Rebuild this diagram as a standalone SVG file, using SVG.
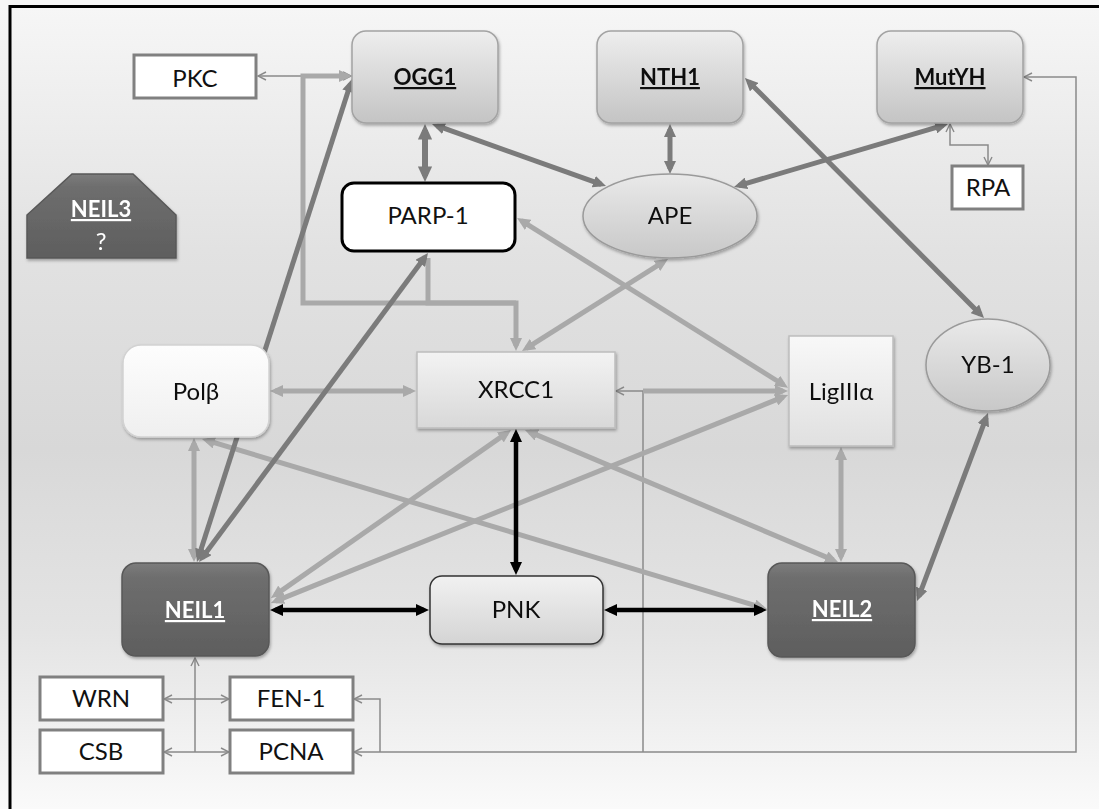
<svg xmlns="http://www.w3.org/2000/svg" width="1099" height="809" viewBox="0 0 1099 809">
  <defs>
    <linearGradient id="bg" x1="0" y1="8" x2="0" y2="809" gradientUnits="userSpaceOnUse">
      <stop offset="0" stop-color="#f6f6f6"/>
      <stop offset="0.3" stop-color="#e2e2e2"/>
      <stop offset="0.55" stop-color="#d8d8d8"/>
      <stop offset="0.78" stop-color="#e4e4e4"/>
      <stop offset="1" stop-color="#fafafa"/>
    </linearGradient>
    <linearGradient id="gBox" x1="0" y1="0" x2="0" y2="1">
      <stop offset="0" stop-color="#eeeeee"/>
      <stop offset="1" stop-color="#c4c4c4"/>
    </linearGradient>
    <linearGradient id="gDark" x1="0" y1="0" x2="0" y2="1">
      <stop offset="0" stop-color="#7c7c7c"/>
      <stop offset="0.15" stop-color="#6e6e6e"/>
      <stop offset="1" stop-color="#5e5e5e"/>
    </linearGradient>
    <linearGradient id="gPale" x1="0" y1="0" x2="0" y2="1">
      <stop offset="0" stop-color="#fdfdfd"/>
      <stop offset="1" stop-color="#efefef"/>
    </linearGradient>
    <linearGradient id="gRect" x1="0" y1="0" x2="0" y2="1">
      <stop offset="0" stop-color="#f3f3f3"/>
      <stop offset="1" stop-color="#d8d8d8"/>
    </linearGradient>
    <linearGradient id="gLig" x1="0" y1="0" x2="0" y2="1">
      <stop offset="0" stop-color="#f8f8f8"/>
      <stop offset="1" stop-color="#e0e0e0"/>
    </linearGradient>
    <linearGradient id="gPnk" x1="0" y1="0" x2="0" y2="1">
      <stop offset="0" stop-color="#f1f1f1"/>
      <stop offset="1" stop-color="#d4d4d4"/>
    </linearGradient>
    <linearGradient id="gOval" x1="0" y1="0" x2="0" y2="1">
      <stop offset="0" stop-color="#e9e9e9"/>
      <stop offset="1" stop-color="#c8c8c8"/>
    </linearGradient>
    <filter id="shadow" x="-10%" y="-10%" width="125%" height="130%">
      <feDropShadow dx="1" dy="2" stdDeviation="1.5" flood-color="#000" flood-opacity="0.3"/>
    </filter>
    <!-- filled arrowheads, scaled with the line width -->
    <marker id="mDk" viewBox="0 0 13 12" refX="8" refY="6" markerWidth="2.6" markerHeight="2.4" orient="auto-start-reverse">
      <path d="M0,0L13,6L0,12z" fill="#7b7b7b"/>
    </marker>
    <marker id="mLt" viewBox="0 0 13 12" refX="8" refY="6" markerWidth="2.6" markerHeight="2.4" orient="auto-start-reverse">
      <path d="M0,0L13,6L0,12z" fill="#a9a9a9"/>
    </marker>
    <marker id="mBk" viewBox="0 0 13 12" refX="8" refY="6" markerWidth="2.9" markerHeight="2.7" orient="auto-start-reverse">
      <path d="M0,0L13,6L0,12z" fill="#000"/>
    </marker>
    <!-- open arrowhead for the thin links -->
    <marker id="mTn" viewBox="0 0 10 10" refX="9" refY="5" markerWidth="10" markerHeight="10" markerUnits="userSpaceOnUse" orient="auto-start-reverse">
      <path d="M1,1L9,5L1,9" fill="none" stroke="#8a8a8a" stroke-width="1.4"/>
    </marker>
    <style>
      .lbl{font-family:Lato,"Open Sans","Liberation Sans","DejaVu Sans",sans-serif;font-size:24px;fill:#111;text-anchor:middle}
      .key{font-weight:bold;font-size:22px;text-decoration:underline}
      .inv{fill:#ffffff}
      .dk{stroke:#7b7b7b;stroke-width:5;fill:none}
      .lt{stroke:#a9a9a9;stroke-width:5;fill:none}
      .bk{stroke:#000;stroke-width:4.5;fill:none}
      .tn{stroke:#8a8a8a;stroke-width:1.5;fill:none}
      .wbox{fill:#ffffff;stroke:#808080;stroke-width:3}
      .gbox{fill:url(#gBox);stroke:#a3a3a3;stroke-width:1.5}
      .dbox{fill:url(#gDark);stroke:#585858;stroke-width:1.5}
    </style>
  </defs>

  <!-- backdrop and the frame edges -->
  <rect x="0" y="0" width="1099" height="809" fill="url(#bg)"/>
  <line x1="10" y1="6.5" x2="1099" y2="6.5" stroke="#000" stroke-width="3"/>
  <line x1="10" y1="5" x2="10" y2="809" stroke="#000" stroke-width="3"/>

  <g id="connectors">
    <!-- thin links -->
    <line class="tn" x1="258" y1="76" x2="351" y2="76" marker-start="url(#mTn)" marker-end="url(#mTn)"/>
    <path class="tn" d="M950,124V145H988V165" marker-start="url(#mTn)" marker-end="url(#mTn)"/>
    <path class="tn" d="M354,752H1076V77H1024" marker-start="url(#mTn)" marker-end="url(#mTn)"/>
    <path class="tn" d="M380,752V699H354" marker-end="url(#mTn)"/>
    <path class="tn" d="M643,752V391H616" marker-end="url(#mTn)"/>
    <path class="tn" d="M195,752V658" marker-end="url(#mTn)"/>
    <line class="tn" x1="164" y1="699" x2="229" y2="699" marker-start="url(#mTn)" marker-end="url(#mTn)"/>
    <line class="tn" x1="164" y1="752" x2="229" y2="752" marker-start="url(#mTn)" marker-end="url(#mTn)"/>

    <!-- light grey links -->
    <path class="lt" d="M347,76H303V303H516V346" marker-start="url(#mLt)" marker-end="url(#mLt)"/>
    <path class="lt" d="M428,258V303H516"/>
    <line class="lt" x1="663.8" y1="261.7" x2="526.2" y2="348.3" marker-start="url(#mLt)" marker-end="url(#mLt)"/>
    <line class="lt" x1="521.3" y1="220.6" x2="783.7" y2="385" marker-start="url(#mLt)" marker-end="url(#mLt)"/>
    <line class="lt" x1="643" y1="391" x2="783" y2="391" marker-end="url(#mLt)"/>
    <line class="lt" x1="275" y1="391" x2="411" y2="391" marker-start="url(#mLt)" marker-end="url(#mLt)"/>
    <line class="lt" x1="194" y1="443" x2="194" y2="557" marker-start="url(#mLt)" marker-end="url(#mLt)"/>
    <line class="lt" x1="206.8" y1="440.4" x2="762.2" y2="607.6" marker-start="url(#mLt)" marker-end="url(#mLt)"/>
    <line class="lt" x1="275.1" y1="595.1" x2="506.9" y2="432.9" marker-start="url(#mLt)" marker-end="url(#mLt)"/>
    <line class="lt" x1="275.6" y1="601.1" x2="783.4" y2="396.9" marker-start="url(#mLt)" marker-end="url(#mLt)"/>
    <line class="lt" x1="529.6" y1="431.9" x2="833.4" y2="560.1" marker-start="url(#mLt)" marker-end="url(#mLt)"/>
    <line class="lt" x1="841" y1="452" x2="841" y2="557" marker-start="url(#mLt)" marker-end="url(#mLt)"/>

    <!-- dark grey links -->
    <line class="dk" x1="425" y1="130" x2="425" y2="176" style="stroke-width:6" marker-start="url(#mDk)" marker-end="url(#mDk)"/>
    <line class="dk" x1="436.7" y1="125.7" x2="601.3" y2="184.3" marker-start="url(#mDk)" marker-end="url(#mDk)"/>
    <line class="dk" x1="670" y1="129" x2="670" y2="169" marker-start="url(#mDk)" marker-end="url(#mDk)"/>
    <line class="dk" x1="943.2" y1="125.4" x2="738.8" y2="185.6" marker-start="url(#mDk)" marker-end="url(#mDk)"/>
    <line class="dk" x1="748.5" y1="81.5" x2="980.5" y2="314.5" marker-start="url(#mDk)" marker-end="url(#mDk)"/>
    <line class="dk" x1="918.8" y1="596.3" x2="986.2" y2="417.7" marker-start="url(#mDk)" marker-end="url(#mDk)"/>
    <line class="dk" x1="198.5" y1="557.2" x2="350.5" y2="83.8" marker-start="url(#mDk)" marker-end="url(#mDk)"/>
    <line class="dk" x1="202" y1="558" x2="425" y2="257" marker-start="url(#mDk)" marker-end="url(#mDk)"/>

    <!-- black links around PNK -->
    <line class="bk" x1="516" y1="434" x2="516" y2="570" marker-start="url(#mBk)" marker-end="url(#mBk)"/>
    <line class="bk" x1="275" y1="610" x2="424" y2="610" marker-start="url(#mBk)" marker-end="url(#mBk)"/>
    <line class="bk" x1="609" y1="610" x2="762" y2="610" marker-start="url(#mBk)" marker-end="url(#mBk)"/>
  </g>

  <g id="PKC">
    <rect class="wbox" x="134" y="55" width="122" height="43"/>
    <text class="lbl" x="195" y="87">PKC</text>
  </g>
  <g id="OGG1" filter="url(#shadow)">
    <rect class="gbox" x="352" y="31" width="146" height="92" rx="14"/>
    <text class="lbl key" x="425" y="85">OGG1</text>
  </g>
  <g id="NTH1" filter="url(#shadow)">
    <rect class="gbox" x="597" y="31" width="146" height="92" rx="14"/>
    <text class="lbl key" x="670" y="85">NTH1</text>
  </g>
  <g id="MutYH" filter="url(#shadow)">
    <rect class="gbox" x="877" y="31" width="146" height="92" rx="14"/>
    <text class="lbl key" x="950" y="85">MutYH</text>
  </g>
  <g id="RPA">
    <rect class="wbox" x="952" y="166" width="71" height="43"/>
    <text class="lbl" x="988" y="196">RPA</text>
  </g>
  <g id="NEIL3" filter="url(#shadow)">
    <polygon class="dbox" points="72,174 133,174 176,215 176,258 27,258 27,215"/>
    <text class="lbl key inv" x="101" y="217">NEIL3</text>
    <text class="lbl inv" x="101" y="250">?</text>
  </g>
  <g id="PARP-1">
    <rect x="342" y="183" width="173" height="68" rx="12" fill="#ffffff" stroke="#000" stroke-width="3"/>
    <text class="lbl" x="428" y="224">PARP-1</text>
  </g>
  <g id="APE" filter="url(#shadow)">
    <ellipse cx="670" cy="216" rx="87" ry="42" fill="url(#gOval)" stroke="#9a9a9a" stroke-width="1.5"/>
    <text class="lbl" x="670" y="224">APE</text>
  </g>
  <g id="Polb" filter="url(#shadow)">
    <rect x="123" y="345" width="146" height="92" rx="18" fill="url(#gPale)" stroke="#d2d2d2" stroke-width="1.5"/>
    <text class="lbl" x="196" y="400">Polβ</text>
  </g>
  <g id="XRCC1" filter="url(#shadow)">
    <rect x="417" y="352" width="198" height="76" fill="url(#gRect)" stroke="#bdbdbd" stroke-width="1.5"/>
    <text class="lbl" x="516" y="398">XRCC1</text>
  </g>
  <g id="LigIIIa" filter="url(#shadow)">
    <rect x="789" y="336" width="104" height="110" fill="url(#gLig)" stroke="#bdbdbd" stroke-width="1.5"/>
    <text class="lbl" x="841" y="400">LigIIIα</text>
  </g>
  <g id="YB-1" filter="url(#shadow)">
    <ellipse cx="988" cy="365" rx="62" ry="46" fill="url(#gOval)" stroke="#9a9a9a" stroke-width="1.5"/>
    <text class="lbl" x="988" y="373">YB-1</text>
  </g>
  <g id="NEIL1" filter="url(#shadow)">
    <rect class="dbox" x="122" y="563" width="147" height="93" rx="14"/>
    <text class="lbl key inv" x="195" y="618">NEIL1</text>
  </g>
  <g id="PNK" filter="url(#shadow)">
    <rect x="430" y="576" width="173" height="68" rx="12" fill="url(#gPnk)" stroke="#333333" stroke-width="1.5"/>
    <text class="lbl" x="516" y="618">PNK</text>
  </g>
  <g id="NEIL2" filter="url(#shadow)">
    <rect class="dbox" x="768" y="563" width="147" height="94" rx="14"/>
    <text class="lbl key inv" x="842" y="617">NEIL2</text>
  </g>
  <g id="WRN">
    <rect class="wbox" x="40" y="677" width="123" height="43"/>
    <text class="lbl" x="101" y="707">WRN</text>
  </g>
  <g id="FEN-1">
    <rect class="wbox" x="230" y="677" width="123" height="43"/>
    <text class="lbl" x="291" y="707">FEN-1</text>
  </g>
  <g id="CSB">
    <rect class="wbox" x="40" y="730" width="123" height="43"/>
    <text class="lbl" x="101" y="760">CSB</text>
  </g>
  <g id="PCNA">
    <rect class="wbox" x="230" y="730" width="123" height="43"/>
    <text class="lbl" x="291" y="760">PCNA</text>
  </g>
</svg>
